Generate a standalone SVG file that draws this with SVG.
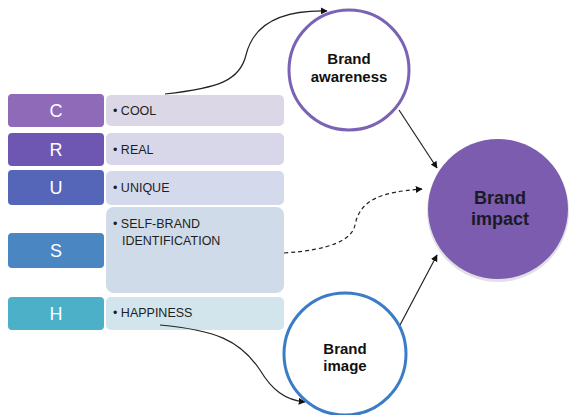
<svg xmlns="http://www.w3.org/2000/svg" width="571" height="415" viewBox="0 0 571 415">
<defs>
<style>
.letter{font-family:"Liberation Sans",Arial,sans-serif;font-size:18px;fill:#ffffff;text-anchor:middle}
.item{font-family:"Liberation Sans",Arial,sans-serif;font-size:12.5px;fill:#1e1e1e}
.node{font-family:"Liberation Sans",Arial,sans-serif;font-size:15px;font-weight:bold;fill:#111111;text-anchor:middle}
.big{font-size:18px;fill:#1a1a26}
.conn{fill:none;stroke:#222222;stroke-width:1.2}
</style>
<marker id="ah" viewBox="0 0 10 10" refX="9" refY="5" markerWidth="7" markerHeight="7" orient="auto" markerUnits="userSpaceOnUse">
<path d="M0,0 L10,5 L0,10 z" fill="#111111"/>
</marker>
</defs>
<rect width="571" height="415" fill="#ffffff"/>

<g id="row-C">
<rect x="106" y="95" width="178" height="31" rx="5" fill="#dcd7e6"/>
<rect x="8" y="94" width="96" height="33" rx="4" fill="#8e6ab8"/>
<text class="letter" x="56" y="117">C</text>
<text class="item" x="113" y="115">• COOL</text>
</g>
<g id="row-R">
<rect x="106" y="133" width="178" height="32" rx="5" fill="#d8d7ea"/>
<rect x="8" y="133" width="96" height="33" rx="4" fill="#6d57b2"/>
<text class="letter" x="56" y="156">R</text>
<text class="item" x="113" y="154">•  REAL</text>
</g>
<g id="row-U">
<rect x="106" y="171" width="178" height="34" rx="5" fill="#d4d9ec"/>
<rect x="8" y="170" width="96" height="35" rx="4" fill="#5566b8"/>
<text class="letter" x="56" y="194">U</text>
<text class="item" x="113" y="192">• UNIQUE</text>
</g>
<g id="row-S">
<rect x="106" y="207" width="178" height="86" rx="8" fill="#cfdbe9"/>
<rect x="8" y="233" width="96" height="35" rx="4" fill="#4a86c2"/>
<text class="letter" x="56" y="257">S</text>
<text class="item" x="113" y="228">• SELF-BRAND</text>
<text class="item" x="122" y="245">IDENTIFICATION</text>
</g>
<g id="row-H">
<rect x="106" y="297" width="178" height="33" rx="5" fill="#d2e4ec"/>
<rect x="8" y="297" width="96" height="33" rx="4" fill="#4bb0c8"/>
<text class="letter" x="56" y="320">H</text>
<text class="item" x="113" y="317">• HAPPINESS</text>
</g>

<g id="connectors">
<path class="conn" d="M165,94 C220,88 240,80 246,55 C254,22 285,10 327,11" marker-end="url(#ah)"/>
<path class="conn" d="M399,110 L437,168" marker-end="url(#ah)"/>
<path class="conn" d="M400,325 L437,255" marker-end="url(#ah)"/>
<path class="conn" stroke-dasharray="4,3" d="M284,253 C330,250 352,240 355,225 C360,200 380,192 422,189" marker-end="url(#ah)"/>
<path class="conn" d="M160,325 C215,330 240,340 260,370 C272,390 285,400 305,402" marker-end="url(#ah)"/>
</g>

<g id="brand-awareness">
<circle cx="349" cy="70" r="60" fill="#ffffff" stroke="#7a62b4" stroke-width="3"/>
<text class="node" x="349" y="64">Brand</text>
<text class="node" x="349" y="82">awareness</text>
</g>
<g id="brand-image">
<circle cx="345" cy="354" r="61" fill="#ffffff" stroke="#3a7cc6" stroke-width="3"/>
<text class="node" x="345" y="354">Brand</text>
<text class="node" x="345" y="371">image</text>
</g>
<g id="brand-impact">
<circle cx="498" cy="211" r="71" fill="#e2e0e6"/>
<circle cx="498" cy="209" r="70" fill="#7c5cae"/>
<text class="node big" x="500" y="204">Brand</text>
<text class="node big" x="500" y="225">impact</text>
</g>
</svg>
